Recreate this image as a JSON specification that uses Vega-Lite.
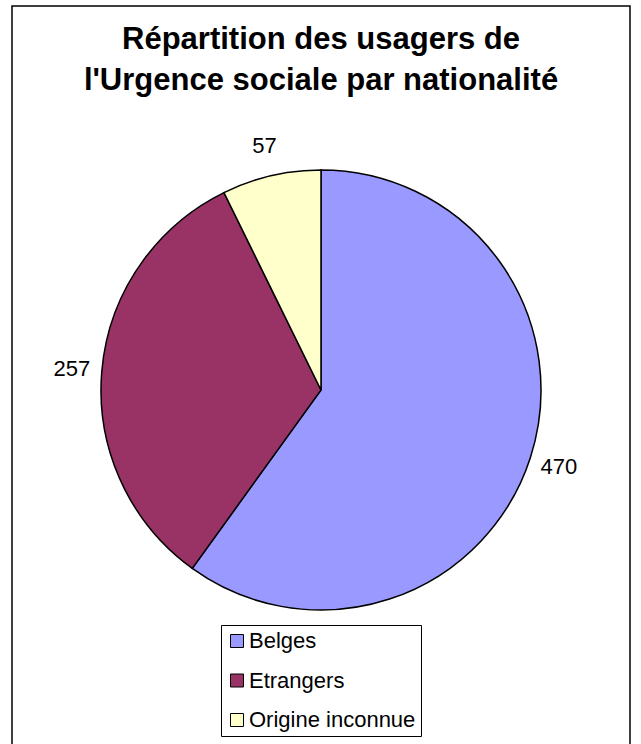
{
  "$schema": "https://vega.github.io/schema/vega-lite/v6.json",
  "width": 618,
  "height": 768,
  "autosize": "none",
  "padding": {"left": 12, "top": 6, "right": 11, "bottom": -30},
  "background": "white",
  "view": {"stroke": "black", "strokeWidth": 1.5, "fill": "white"},
  "title": {
    "text": ["Répartition des usagers de", "l'Urgence sociale par nationalité"],
    "anchor": "middle",
    "frame": "group",
    "orient": "top",
    "offset": -91,
    "fontSize": 31,
    "font": "Arial, Liberation Sans",
    "fontWeight": "bold",
    "color": "black",
    "lineHeight": 41
  },
  "data": {
    "values": [
      {"nationalite": "Belges", "value": 470},
      {"nationalite": "Etrangers", "value": 257},
      {"nationalite": "Origine inconnue", "value": 57}
    ]
  },
  "encoding": {
    "theta": {"field": "value", "type": "quantitative", "stack": true},
    "order": {"field": "value", "type": "quantitative", "sort": "descending"},
    "color": {
      "field": "nationalite",
      "type": "nominal",
      "scale": {
        "domain": ["Belges", "Etrangers", "Origine inconnue"],
        "range": ["#9999FF", "#993366", "#FFFFCC"]
      },
      "legend": {"title": null, "orient": "none", "legendX": 209, "legendY": 619}
    }
  },
  "layer": [
    {"mark": {"type": "arc", "radius": 220, "stroke": "black", "strokeWidth": 1.5}},
    {
      "mark": {"type": "text", "radius": 250, "fontSize": 22, "font": "Arial, Liberation Sans"},
      "encoding": {
        "text": {"field": "value", "type": "quantitative"},
        "color": {"value": "black"}
      }
    }
  ],
  "config": {
    "view": {"stroke": "black", "strokeWidth": 1.5},
    "legend": {
      "strokeColor": "black",
      "fillColor": "white",
      "padding": 5,
      "symbolType": "square",
      "symbolSize": 169,
      "symbolStrokeColor": "black",
      "symbolStrokeWidth": 1,
      "labelFontSize": 22,
      "labelFont": "Arial, Liberation Sans",
      "labelColor": "black",
      "rowPadding": 17.5,
      "labelOffset": 1,
      "labelLimit": 300,
      "cornerRadius": 0
    }
  }
}
